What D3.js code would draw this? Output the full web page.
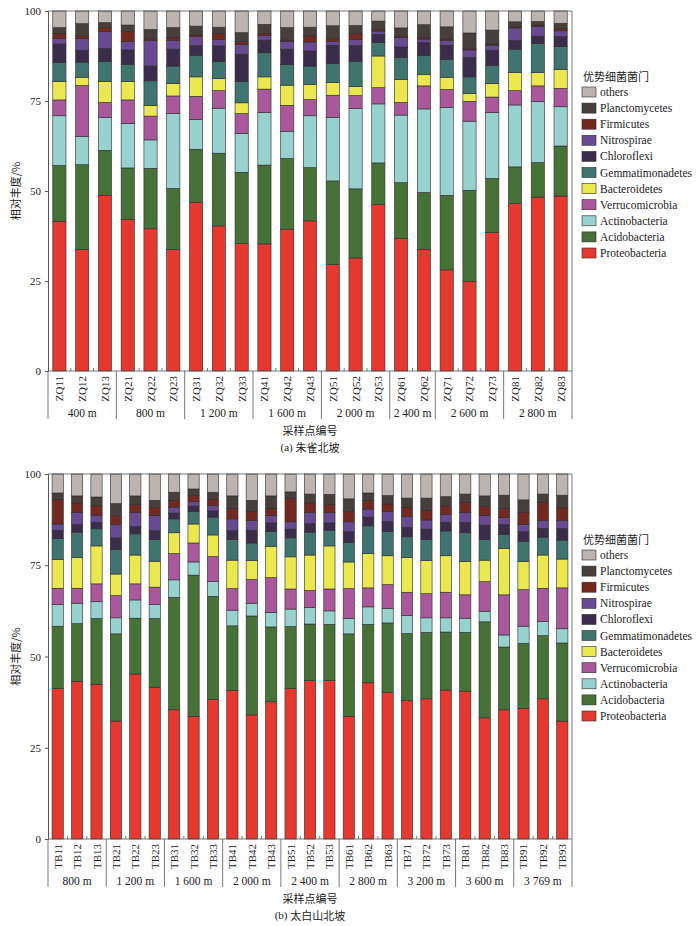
<!DOCTYPE html>
<html>
<head>
<meta charset="utf-8">
<script src="https://cdn.jsdelivr.net/npm/d3@7"></script>
<style>
  body { margin: 0; background: #fff; }
  svg text { font-family: "Liberation Serif", "Times New Roman", serif; fill: #222; }
  svg text.cjk { font-family: "Noto Sans CJK SC", sans-serif; }
</style>
</head>
<body>
<div id="chart"></div>
<script>
'use strict';

// ---- data ----
var phyla = ['Proteobacteria', 'Acidobacteria', 'Actinobacteria', 'Verrucomicrobia', 'Bacteroidetes',
    'Gemmatimonadetes', 'Chloroflexi', 'Nitrospirae', 'Firmicutes', 'Planctomycetes', 'others'];
var phylaColors = ['#e5392f', '#467238', '#98d2cf', '#a9599b', '#ebe84f',
    '#40756f', '#3c2c4c', '#684a93', '#72291f', '#473f3a', '#bdb4b0'];

// (a) 朱雀北坡
var zqSamples = ['ZQ11', 'ZQ12', 'ZQ13', 'ZQ21', 'ZQ22', 'ZQ23', 'ZQ31', 'ZQ32', 'ZQ33', 'ZQ41', 'ZQ42', 'ZQ43',
    'ZQ51', 'ZQ52', 'ZQ53', 'ZQ61', 'ZQ62', 'ZQ71', 'ZQ72', 'ZQ73', 'ZQ81', 'ZQ82', 'ZQ83'];
var zqGroups = ['400 m', '800 m', '1 200 m', '1 600 m', '2 000 m', '2 400 m', '2 600 m', '2 800 m'];
var zqGroupSizes = [3, 3, 3, 3, 3, 2, 3, 3];
var zqProteobacteria = [41.6, 33.7, 48.7, 42.1, 39.5, 33.7, 46.8, 40.3, 35.4, 35.3, 39.4, 41.7, 29.6, 31.4, 46.2, 36.8, 33.8, 28.1, 24.8, 38.5, 46.5, 48.3, 48.6];
var zqAcidobacteria = [15.5, 23.6, 12.6, 14.3, 16.8, 17.0, 14.8, 20.2, 19.8, 21.9, 19.6, 14.8, 23.2, 19.2, 11.6, 15.5, 15.8, 20.7, 25.4, 15.0, 10.2, 9.6, 13.9];
var zqActinobacteria = [13.8, 7.8, 9.1, 12.4, 7.9, 20.8, 8.3, 12.5, 10.8, 14.6, 7.6, 14.4, 17.6, 22.3, 16.4, 18.8, 23.2, 24.4, 19.2, 18.3, 17.2, 16.9, 10.9];
var zqVerrucomicrobia = [4.4, 14.2, 4.2, 6.5, 6.6, 4.9, 6.4, 4.9, 5.5, 6.5, 7.2, 4.5, 6.2, 3.6, 4.5, 3.5, 6.4, 5.0, 5.5, 4.3, 4.0, 4.4, 5.1];
var zqBacteroidetes = [5.1, 2.3, 5.8, 5.1, 2.9, 3.5, 5.4, 3.3, 3.0, 3.4, 5.6, 4.2, 3.5, 2.5, 8.8, 6.4, 3.1, 3.4, 2.2, 3.7, 5.0, 3.7, 5.3];
var zqGemmatimonadetes = [5.3, 4.2, 5.6, 4.8, 6.9, 4.8, 6.0, 4.7, 5.9, 6.7, 5.7, 5.1, 5.3, 7.0, 3.7, 6.1, 5.4, 4.9, 4.6, 5.1, 6.5, 8.1, 6.3];
var zqChloroflexi = [5.1, 3.3, 3.6, 4.0, 4.1, 4.7, 2.7, 4.4, 7.6, 3.5, 4.3, 4.2, 5.1, 4.4, 2.3, 2.9, 3.5, 4.0, 5.4, 4.2, 2.4, 2.0, 2.8];
var zqNitrospirae = [1.5, 3.2, 4.7, 2.3, 7.1, 2.4, 2.5, 1.8, 2.7, 1.3, 2.2, 2.5, 1.1, 1.7, 0.9, 2.6, 1.0, 1.3, 2.1, 1.4, 3.5, 2.7, 1.6];
var zqFirmicutes = [1.5, 0.8, 1.1, 2.8, 0.5, 0.8, 0.5, 1.7, 0.8, 0.6, 0.3, 1.7, 0.7, 1.6, 0.5, 0.4, 0.5, 0.4, 0.3, 0.3, 0.3, 0.4, 0.6];
var zqPlanctomycetes = [1.6, 3.4, 1.4, 1.8, 2.6, 2.8, 2.4, 1.7, 2.5, 2.5, 3.5, 2.4, 3.6, 2.3, 2.3, 2.3, 3.5, 3.4, 4.4, 3.9, 1.4, 1.0, 1.5];
var zqOthers = [4.6, 3.5, 3.2, 3.9, 5.1, 4.6, 4.2, 4.5, 6.0, 3.7, 4.6, 4.5, 4.1, 4.0, 2.8, 4.7, 3.8, 4.4, 6.1, 5.3, 3.0, 2.9, 3.4];

// (b) 太白山北坡
var tbSamples = ['TB11', 'TB12', 'TB13', 'TB21', 'TB22', 'TB23', 'TB31', 'TB32', 'TB33', 'TB41', 'TB42', 'TB43',
    'TB51', 'TB52', 'TB53', 'TB61', 'TB62', 'TB63', 'TB71', 'TB72', 'TB73', 'TB81', 'TB82', 'TB83', 'TB91', 'TB92', 'TB93'];
var tbGroups = ['800 m', '1 200 m', '1 600 m', '2 000 m', '2 400 m', '2 800 m', '3 200 m', '3 600 m', '3 769 m'];
var tbGroupSizes = [3, 3, 3, 3, 3, 3, 3, 3, 3];
var tbProteobacteria = [41.3, 43.2, 42.4, 32.3, 45.2, 41.6, 35.4, 33.6, 38.2, 40.7, 34.0, 37.6, 41.2, 43.4, 43.4, 33.6, 42.8, 40.1, 37.9, 38.4, 40.8, 40.5, 33.2, 35.4, 35.8, 38.4, 32.3];
var tbAcidobacteria = [17.0, 15.8, 18.0, 23.9, 15.3, 18.8, 30.8, 38.7, 28.3, 17.7, 27.1, 20.5, 17.0, 15.5, 15.4, 22.6, 16.0, 19.1, 18.4, 18.2, 15.9, 16.1, 26.3, 17.2, 17.8, 17.3, 21.4];
var tbActinobacteria = [5.9, 5.6, 4.6, 4.4, 5.0, 3.9, 4.8, 3.6, 4.0, 4.3, 3.5, 4.0, 4.8, 4.5, 3.7, 4.2, 4.8, 4.0, 4.9, 4.0, 3.9, 3.9, 2.9, 3.3, 4.7, 3.9, 3.9];
var tbVerrucomicrobia = [4.5, 4.1, 4.9, 6.1, 4.4, 4.7, 7.2, 5.2, 6.9, 5.9, 6.5, 9.5, 5.5, 4.7, 6.0, 8.2, 5.2, 6.5, 6.4, 6.6, 7.0, 6.4, 8.1, 11.0, 10.0, 9.1, 11.2];
var tbBacteroidetes = [7.9, 8.4, 10.4, 5.9, 7.9, 7.1, 5.7, 5.2, 5.9, 7.8, 5.2, 8.6, 8.8, 9.7, 11.8, 7.3, 9.4, 7.9, 9.5, 9.1, 10.0, 9.1, 5.9, 12.7, 7.7, 9.1, 7.9];
var tbGemmatimonadetes = [5.7, 7.0, 4.7, 6.7, 5.8, 6.0, 3.8, 3.4, 4.9, 5.6, 4.8, 4.1, 5.2, 6.3, 4.3, 5.4, 7.6, 6.6, 5.7, 5.7, 6.8, 7.9, 5.6, 3.8, 5.5, 4.9, 5.2];
var tbChloroflexi = [2.3, 2.1, 1.8, 3.2, 2.0, 2.4, 1.6, 1.5, 1.7, 2.5, 3.5, 2.3, 2.4, 2.3, 2.0, 2.9, 2.4, 2.8, 2.6, 2.9, 2.4, 2.8, 4.0, 2.7, 2.7, 2.4, 3.2];
var tbNitrospirae = [1.7, 3.2, 1.9, 3.6, 3.8, 4.1, 1.6, 1.2, 1.5, 3.2, 2.7, 2.0, 2.0, 3.1, 2.8, 2.7, 2.2, 2.7, 2.9, 2.5, 2.1, 2.7, 2.6, 2.0, 2.0, 2.2, 2.2];
var tbFirmicutes = [6.7, 2.7, 2.6, 2.5, 2.3, 2.2, 1.8, 1.7, 1.7, 2.9, 2.5, 2.0, 6.5, 2.6, 2.3, 2.8, 2.4, 2.1, 2.6, 2.7, 2.3, 2.8, 2.6, 2.5, 3.3, 5.0, 3.4];
var tbPlanctomycetes = [1.8, 1.9, 2.4, 3.3, 2.3, 2.0, 2.3, 1.8, 1.9, 3.4, 3.0, 3.4, 1.7, 2.4, 2.7, 3.5, 2.0, 2.3, 2.5, 3.3, 2.6, 2.3, 2.8, 3.6, 3.4, 2.2, 3.5];
var tbOthers = [5.2, 6.0, 6.3, 8.1, 6.0, 7.2, 5.0, 4.1, 5.0, 6.0, 7.2, 6.0, 4.9, 5.5, 5.6, 6.8, 5.2, 5.9, 6.6, 6.6, 6.2, 5.5, 6.0, 5.8, 7.1, 5.5, 5.8];

var yTicks = [0, 25, 50, 75, 100];

// ---- chart ----
var width = 700,
    height = 926;

var plotLeft = 48,
    plotRight = 572;

var svg = d3.select('#chart').append('svg')
    .attr('width', width)
    .attr('height', height);

var color = d3.scaleOrdinal().domain(phyla).range(phylaColors);

function buildRows(samples, series) {
    return samples.map(function(s, i) {
        var row = { sample: s };
        phyla.forEach(function(p, k) { row[p] = series[k][i]; });
        return row;
    });
}

function drawPanel(cfg) {
    var top = cfg.top,
        h = cfg.height,
        y0 = top + h;

    var g = svg.append('g');

    var x = d3.scaleBand()
        .domain(cfg.samples)
        .range([plotLeft, plotRight])
        .paddingInner(0.42)
        .paddingOuter(0.21);

    var y = d3.scaleLinear().domain([0, 100]).range([y0, top]);

    var rows = buildRows(cfg.samples, cfg.series);
    var stacked = d3.stack().keys(phyla)(rows);

    g.selectAll('g.layer')
        .data(stacked)
        .enter()
        .append('g')
        .attr('class', 'layer')
        .attr('fill', function(d) { return color(d.key); })
        .selectAll('rect')
        .data(function(d) { return d; })
        .enter()
        .append('rect')
        .attr('x', function(d) { return x(d.data.sample); })
        .attr('width', x.bandwidth())
        .attr('y', function(d) { return y(d[1]); })
        .attr('height', function(d) { return y(d[0]) - y(d[1]); })
        .attr('stroke', '#2b2b2b')
        .attr('stroke-width', 0.6);

    // frame: top and right lines
    g.append('line')
        .attr('x1', plotLeft).attr('x2', plotRight)
        .attr('y1', top).attr('y2', top)
        .attr('stroke', '#555').attr('stroke-width', 0.8);
    g.append('line')
        .attr('x1', plotRight).attr('x2', plotRight)
        .attr('y1', top).attr('y2', y0)
        .attr('stroke', '#555').attr('stroke-width', 0.8);

    // y axis
    var yAxis = g.append('g')
        .attr('transform', 'translate(' + plotLeft + ',0)')
        .call(d3.axisLeft(y).tickValues(yTicks).tickSize(3).tickPadding(4));
    yAxis.select('.domain').attr('stroke', '#555');
    yAxis.selectAll('.tick line').attr('stroke', '#555');
    yAxis.selectAll('text')
        .style('font-family', '"Liberation Serif", serif')
        .style('font-size', '11px')
        .attr('fill', '#222');

    g.append('text')
        .attr('class', 'cjk')
        .attr('transform', 'translate(15,' + (top + h / 2) + ') rotate(-90)')
        .attr('text-anchor', 'middle')
        .attr('dominant-baseline', 'central')
        .style('font-size', '11px')
        .text('相对丰度/%');

    // x axis baseline
    g.append('line')
        .attr('x1', plotLeft).attr('x2', plotRight)
        .attr('y1', y0).attr('y2', y0)
        .attr('stroke', '#555').attr('stroke-width', 0.8);

    // sample labels
    g.selectAll('text.sample')
        .data(cfg.samples)
        .enter()
        .append('text')
        .attr('class', 'sample')
        .attr('transform', function(d) {
            return 'translate(' + (x(d) + x.bandwidth() / 2) + ',' + (y0 + 5) + ') rotate(-90)';
        })
        .attr('text-anchor', 'end')
        .attr('dominant-baseline', 'central')
        .style('font-size', '11px')
        .text(function(d) { return d; });

    // group separators, small in-group ticks, group labels
    var step = x.step();
    var start = 0;
    cfg.groupSizes.forEach(function(n, k) {
        var xs = plotLeft + start * step,
            xe = plotLeft + (start + n) * step;
        g.append('line')
            .attr('x1', xs).attr('x2', xs)
            .attr('y1', y0).attr('y2', y0 + 48)
            .attr('stroke', '#555').attr('stroke-width', 0.8);
        for (var j = 1; j < n; j++) {
            var xt = xs + j * step;
            g.append('line')
                .attr('x1', xt).attr('x2', xt)
                .attr('y1', y0).attr('y2', y0 - 3)
                .attr('stroke', '#555').attr('stroke-width', 0.8);
        }
        g.append('text')
            .attr('x', (xs + xe) / 2)
            .attr('y', y0 + 42)
            .attr('text-anchor', 'middle')
            .attr('dominant-baseline', 'central')
            .style('font-size', '11.5px')
            .text(cfg.groups[k]);
        start += n;
    });
    g.append('line')
        .attr('x1', plotRight).attr('x2', plotRight)
        .attr('y1', y0).attr('y2', y0 + 48)
        .attr('stroke', '#555').attr('stroke-width', 0.8);

    g.append('text')
        .attr('class', 'cjk')
        .attr('x', (plotLeft + plotRight) / 2)
        .attr('y', y0 + 59)
        .attr('text-anchor', 'middle')
        .attr('dominant-baseline', 'central')
        .style('font-size', '11px')
        .text('采样点编号');

    var cap = g.append('text')
        .attr('x', (plotLeft + plotRight) / 2)
        .attr('y', y0 + 76)
        .attr('text-anchor', 'middle')
        .attr('dominant-baseline', 'central')
        .style('font-size', '11px');
    cap.append('tspan').text(cfg.captionTag + '  ');
    cap.append('tspan').attr('class', 'cjk')
        .style('font-family', '"Noto Sans CJK SC", sans-serif')
        .text(cfg.caption);

    // legend
    var lg = g.append('g').attr('transform', 'translate(582,' + top + ')');
    lg.append('text')
        .attr('class', 'cjk')
        .attr('x', 1)
        .attr('y', 65)
        .attr('dominant-baseline', 'central')
        .style('font-size', '11px')
        .text('优势细菌菌门');

    var items = lg.selectAll('g.item')
        .data(phyla.slice().reverse())
        .enter()
        .append('g')
        .attr('class', 'item')
        .attr('transform', function(d, i) { return 'translate(0,' + (81 + i * 16.1) + ')'; });
    items.append('rect')
        .attr('x', 0).attr('y', -5)
        .attr('width', 14).attr('height', 10)
        .attr('fill', function(d) { return color(d); })
        .attr('stroke', '#2b2b2b')
        .attr('stroke-width', 0.6);
    items.append('text')
        .attr('x', 18)
        .attr('y', 0)
        .attr('dominant-baseline', 'central')
        .style('font-size', '11.5px')
        .text(function(d) { return d; });
}

drawPanel({
    top: 11,
    height: 360,
    samples: zqSamples,
    groups: zqGroups,
    groupSizes: zqGroupSizes,
    series: [zqProteobacteria, zqAcidobacteria, zqActinobacteria, zqVerrucomicrobia, zqBacteroidetes,
        zqGemmatimonadetes, zqChloroflexi, zqNitrospirae, zqFirmicutes, zqPlanctomycetes, zqOthers],
    captionTag: '(a)',
    caption: '朱雀北坡'
});

drawPanel({
    top: 474,
    height: 365,
    samples: tbSamples,
    groups: tbGroups,
    groupSizes: tbGroupSizes,
    series: [tbProteobacteria, tbAcidobacteria, tbActinobacteria, tbVerrucomicrobia, tbBacteroidetes,
        tbGemmatimonadetes, tbChloroflexi, tbNitrospirae, tbFirmicutes, tbPlanctomycetes, tbOthers],
    captionTag: '(b)',
    caption: '太白山北坡'
});
</script>
</body>
</html>
